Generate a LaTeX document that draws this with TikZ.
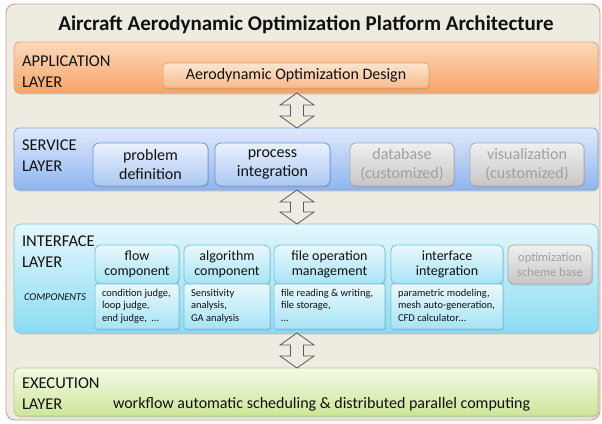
\documentclass[tikz,border=0pt]{standalone}
\usepackage{fontspec}
\setmainfont{Carlito}
\usetikzlibrary{calc,shadows}

% palette
\definecolor{bgbeige}{HTML}{EEECE1}
\definecolor{framered}{HTML}{D99594}
\definecolor{apptop}{HTML}{FCD9BC}
\definecolor{appbot}{HTML}{F8A466}
\definecolor{appline}{HTML}{F2A46C}
\definecolor{aintop}{HTML}{FDE5D0}
\definecolor{ainbot}{HTML}{F8BA8A}
\definecolor{ainline}{HTML}{EE9F62}
\definecolor{svctop}{HTML}{DFEAFB}
\definecolor{svcbot}{HTML}{8FB5F0}
\definecolor{svcline}{HTML}{7EA6DF}
\definecolor{ssubtop}{HTML}{EAF1FC}
\definecolor{ssubbot}{HTML}{ABC7F2}
\definecolor{ssubline}{HTML}{6F98D3}
\definecolor{graytop}{HTML}{F0F0F0}
\definecolor{graybot}{HTML}{C6C6C6}
\definecolor{grayline}{HTML}{ABABAB}
\definecolor{graytext}{HTML}{A0A0A0}
\definecolor{iftop}{HTML}{E4F7FD}
\definecolor{ifbot}{HTML}{8CDCF3}
\definecolor{ifline}{HTML}{7FCCE3}
\definecolor{isubtop}{HTML}{EAF9FD}
\definecolor{isubbot}{HTML}{A5E3F5}
\definecolor{isubline}{HTML}{74C4DD}
\definecolor{extop}{HTML}{F5FAE6}
\definecolor{exbot}{HTML}{CCE698}
\definecolor{exline}{HTML}{B0CF78}
\definecolor{arrowline}{HTML}{595959}
\definecolor{ink}{HTML}{111111}

\begin{document}
\begin{tikzpicture}[x=1pt,y=-1pt,
  every node/.style={text=ink, inner sep=0pt, outer sep=0pt},
  shade/.style={drop shadow={shadow xshift=1pt,shadow yshift=-1.6pt,opacity=0.28}},
  rbox/.style={rounded corners=5pt, line width=0.8pt, shade},
  layerbox/.style={rbox, draw=#1line, top color=#1top, bottom color=#1bot},
  subbox/.style={rbox, rounded corners=6pt, draw=#1line, top color=#1top, bottom color=#1bot, align=center},
  title/.style={font=\fontsize{21}{25}\selectfont\bfseries},
  lbl/.style={font=\fontsize{16.5}{20}\selectfont, anchor=west},
  big/.style={font=\fontsize{16}{19}\selectfont},
  head/.style={font=\fontsize{14}{14.5}\selectfont},
  detail/.style={font=\fontsize{10.5}{12.6}\selectfont, align=left, anchor=north west},
  dimtext/.style={text=graytext},
  hollow/.style={draw=arrowline, fill=bgbeige, line width=0.8pt, line join=miter}
]
\useasboundingbox (0,0) rectangle (602,423);

% outer frame
\node[draw=framered, fill=bgbeige, rounded corners=9pt, line width=0.8pt,
      minimum width=594, minimum height=416] (frame) at (303,212) {};
\node[title] (ttl) at (306,25) {Aircraft Aerodynamic Optimization Platform Architecture};

% application layer
\node[layerbox=app, minimum width=584, minimum height=51] (app) at (306,67.5) {};
\node[lbl] (appA) at (22,61) {APPLICATION};
\node[lbl] (appB) at (22,82) {LAYER};
\node[subbox=ain, rounded corners=4pt, minimum width=266, minimum height=25, big] (appin) at (296,75.5) {Aerodynamic Optimization Design};

% service layer
\node[layerbox=svc, minimum width=584, minimum height=62] (svc) at (306,159) {};
\node[lbl] (svcA) at (22,145) {SERVICE};
\node[lbl] (svcB) at (22,166) {LAYER};
\node[subbox=ssub, minimum width=115, minimum height=43, big] (pd) at (150.5,164.5) {problem\\definition};
\node[subbox=ssub, minimum width=115, minimum height=43, big] (pint) at (272.5,164.5) {process\\integration};
\node[subbox=gray, minimum width=104, minimum height=43, big, dimtext] (db) at (402,164.5) {database\\(customized)};
\node[subbox=gray, minimum width=114, minimum height=43, big, dimtext] (vis) at (527,164.5) {visualization\\(customized)};

% interface layer
\node[layerbox=if, rounded corners=7pt, minimum width=584, minimum height=109] (iface) at (306,278.5) {};
\node[subbox=isub, minimum width=84, minimum height=39, head] (flowh) at (137,264.5) {flow\\component};
\node[subbox=isub, rounded corners=2pt, minimum width=84, minimum height=45] (flowd) at (137,306.5) {};
\node[subbox=isub, minimum width=86, minimum height=39, head] (algh) at (227,264.5) {algorithm\\component};
\node[subbox=isub, rounded corners=2pt, minimum width=86, minimum height=45] (algd) at (227,306.5) {};
\node[subbox=isub, minimum width=111, minimum height=39, head] (fileh) at (329.5,264.5) {file operation\\management};
\node[subbox=isub, rounded corners=2pt, minimum width=111, minimum height=45] (filed) at (329.5,306.5) {};
\node[subbox=isub, minimum width=112, minimum height=39, head] (intgh) at (447,264.5) {interface\\integration};
\node[subbox=isub, rounded corners=2pt, minimum width=112, minimum height=45] (intgd) at (447,306.5) {};
\node[subbox=gray, minimum width=84, minimum height=39, dimtext,
      font=\fontsize{12.5}{15}\selectfont] (opt) at (550,264.5) {optimization\\scheme base};
\node[lbl] (ifA) at (22,241) {INTERFACE};
\node[lbl] (ifB) at (22,262) {LAYER};
\node[anchor=west, font=\fontsize{10.5}{12}\selectfont\itshape] (comp) at (24,297) {COMPONENTS};
\node[detail] (flowt) at ([xshift=7pt,yshift=-5pt]flowd.north west) {condition judge,\\loop judge,\\end judge,\ \ …};
\node[detail] (algt) at ([xshift=7pt,yshift=-5pt]algd.north west) {Sensitivity\\analysis,\\GA analysis};
\node[detail] (filet) at ([xshift=7pt,yshift=-5pt]filed.north west) {file reading \& writing,\\file storage,\\…};
\node[detail] (intgt) at ([xshift=7pt,yshift=-5pt]intgd.north west) {parametric modeling,\\mesh auto-generation,\\CFD calculator…};

% execution layer
\node[layerbox=ex, minimum width=584, minimum height=48] (exec) at (306,392) {};
\node[lbl] (exA) at (22,383) {EXECUTION};
\node[lbl] (exB) at (22,404) {LAYER};
\node[big, anchor=west] (exT) at (113,404) {workflow automatic scheduling \& distributed parallel computing};

% hollow double arrows between the layers
\coordinate (ax) at (297,0);
\newcommand\DblArrow[2]{%
  \draw[hollow] (#1) -- ++(17,12) -- ++(-10.5,0) -- ($(#2)+(6.5,-12)$)
    -- ++(10.5,0) -- (#2) -- ++(-17,-12) -- ++(10.5,0)
    -- ($(#1)+(-6.5,12)$) -- ++(-10.5,0) -- cycle;}
\coordinate (a1t) at (app.south -| ax);
\coordinate (a1b) at (svc.north -| ax);
\coordinate (a2t) at (svc.south -| ax);
\coordinate (a2b) at (iface.north -| ax);
\coordinate (a3t) at (iface.south -| ax);
\coordinate (a3b) at (exec.north -| ax);
\DblArrow{a1t}{a1b}
\DblArrow{a2t}{a2b}
\DblArrow{a3t}{a3b}
\end{tikzpicture}
\end{document}
